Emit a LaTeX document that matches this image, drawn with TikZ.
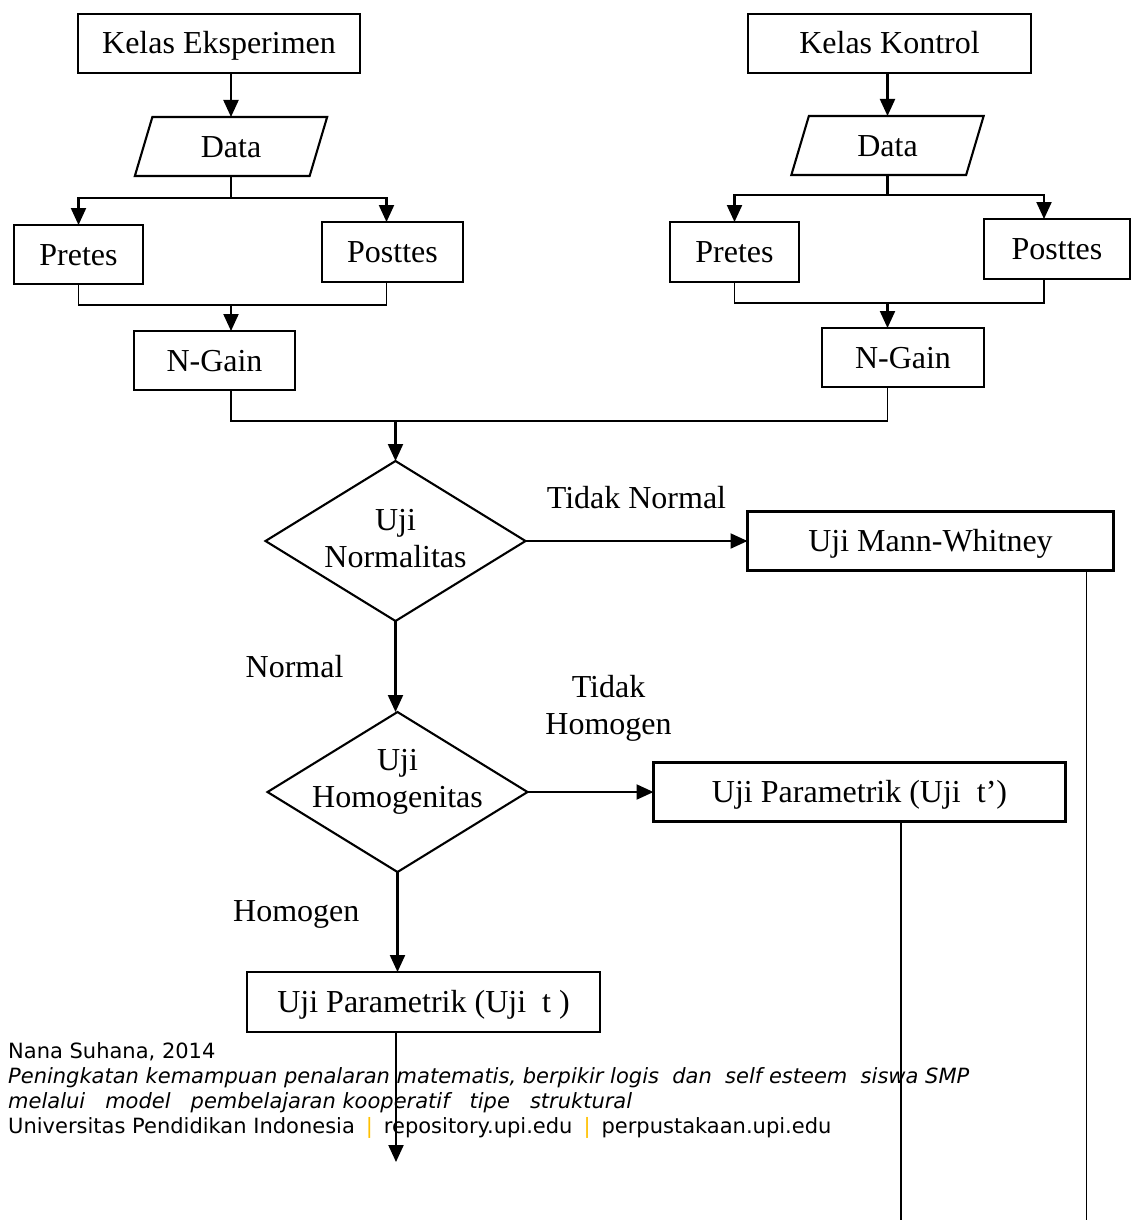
\documentclass[tikz,border=0pt]{standalone}
\usepackage{fontspec}
\setmainfont{Liberation Serif}
\newfontfamily\footfont{DejaVu Sans}
\usetikzlibrary{positioning,shapes.geometric,arrows.meta}
\definecolor{upigold}{RGB}{255,192,0}

\tikzset{
  box/.style={draw, line width=2.1pt, inner sep=0pt, outer sep=0pt, minimum height=59pt,
    text height=24pt, text depth=3pt},
  datashape/.style={draw, line width=2.1pt, trapezium, trapezium left angle=76,
    trapezium right angle=104, trapezium stretches=true, inner sep=0pt, outer sep=0pt,
    minimum width=193pt, minimum height=59pt, text height=24pt, text depth=3pt},
  decision/.style={draw, line width=2.1pt, diamond, inner sep=0pt, outer sep=0pt,
    minimum width=260pt, minimum height=160pt},
  arr/.style={line width=2.1pt, -{Triangle[length=17pt,width=15pt]}},
  link/.style={line width=1.5pt},
  lbl/.style={inner sep=0pt},
}
\newcommand{\upibar}{\hspace{11pt}{\color{upigold}|}\hspace{11pt}}

\begin{document}
\begin{tikzpicture}[x=1pt, y=-1pt, font=\fontsize{32}{37}\selectfont]
  \useasboundingbox (0,0) rectangle (1131,1220);

  % Kelas eksperimen
  \node[box, minimum width=282pt] (ke) at (219,43.5) {Kelas Eksperimen};
  \node[datashape, below=44pt of ke, xshift=12pt] (dl) {Data};
  \node[box, minimum width=129pt, below=49pt of dl, xshift=-152.5pt] (preL) {Pretes};
  \node[box, minimum width=141pt, minimum height=60pt, below=46pt of dl, xshift=161.5pt] (postL) {Posttes};
  \node[box, minimum width=161pt, below=155pt of dl, xshift=-16.5pt] (ngL) {N-Gain};

  % Kelas kontrol
  \node[box, minimum width=283pt, right=388pt of ke] (kk) {Kelas Kontrol};
  \node[datashape, below=43pt of kk, xshift=-2pt] (dr) {Data};
  \node[box, minimum width=129pt, minimum height=60pt, below=47pt of dr, xshift=-153pt] (preR) {Pretes};
  \node[box, minimum width=146pt, minimum height=60pt, below=44pt of dr, xshift=169.5pt] (postR) {Posttes};
  \node[box, minimum width=162pt, below=153pt of dr, xshift=15.5pt] (ngR) {N-Gain};

  % Branches
  \draw[arr] (ke.south -| dl.north) -- (dl.north);
  \coordinate[below=22pt of dl] (splitL);
  \draw[arr] (dl.south) -- (splitL) -| (preL.north);
  \draw[arr] (splitL) -| ([xshift=-6pt]postL.north);
  \coordinate[below=21pt of preL] (joinL);
  \draw[link] (preL.south) -- (joinL) -| ([xshift=-6pt]postL.south);
  \draw[arr] (joinL -| dl.south) -- (dl.south |- ngL.north);

  \draw[arr] (kk.south -| dr.north) -- (dr.north);
  \coordinate[below=20pt of dr] (splitR);
  \draw[arr] (dr.south) -- (splitR) -| (preR.north);
  \draw[arr] (splitR) -| ([xshift=-13pt]postR.north);
  \coordinate[below=21pt of preR] (joinR);
  \draw[link] (preR.south) -- (joinR) -| ([xshift=-13pt]postR.south);
  \draw[arr] (joinR -| dr.south) -- (dr.south |- ngR.north);

  \coordinate[below=31pt of ngL] (busL);
  \draw[link] (dl.south |- ngL.south) -- (dl.south |- busL) -- (dr.south |- busL) -- (dr.south |- ngR.south);

  % Footer
  \node[anchor=north west, align=left, inner sep=0pt,
    font=\footfont\fontsize{21}{25}\selectfont] (foot) at (8,1042)
    {Nana Suhana, 2014\\
     \textit{Peningkatan kemampuan penalaran matematis, berpikir logis~ dan~ self esteem~ siswa SMP}\\
     \textit{melalui~ ~model~ ~pembelajaran kooperatif~ ~tipe~ ~struktural}\\
     Universitas Pendidikan Indonesia\upibar repository.upi.edu\upibar perpustakaan.upi.edu};

  % Uji
  \node[decision, below=71pt of ngL, xshift=181pt,
    label={[align=center, yshift=2pt]center:Uji\\Normalitas}] (dn) {};
  \draw[arr] (dn.north |- busL) -- (dn.north);
  \node[box, minimum width=366pt, right=222pt of dn] (mw) {Uji Mann-Whitney};
  \draw[arr] (dn.east) -- node[lbl, above=31pt] {Tidak Normal} (mw.west);

  \node[decision, below=91pt of dn, xshift=2pt,
    label={[align=center, yshift=10pt]center:Uji\\Homogenitas}] (dh) {};
  \draw[arr] (dn.south) -- node[lbl, left=51pt] {Normal} (dn.south |- dh.north);
  \node[box, minimum width=412pt, right=126pt of dh] (tp) {Uji Parametrik (Uji~ t’)};
  \draw[arr] (dh.east) -- node[lbl, above=50pt, xshift=18pt, align=center] {Tidak\\Homogen} (tp.west);

  \node[box, minimum width=353pt, minimum height=60pt, below=100pt of dh, xshift=26pt] (ut) {Uji Parametrik (Uji~ t )};
  \draw[arr] (dh.south) -- node[lbl, pos=0.425, left=37pt] {Homogen} (dh.south |- ut.north);

  \coordinate[below=130pt of ut.south, xshift=-27.5pt] (utEnd);
  \draw[arr] (utEnd |- ut.south) -- (utEnd);
  \coordinate[below=652pt of mw.south, xshift=156pt] (mwEnd);
  \draw[link] (mwEnd |- mw.south) -- (mwEnd);
  \coordinate[below=400pt of tp.south, xshift=41.5pt] (tpEnd);
  \draw[link] (tpEnd |- tp.south) -- (tpEnd);
\end{tikzpicture}
\end{document}
